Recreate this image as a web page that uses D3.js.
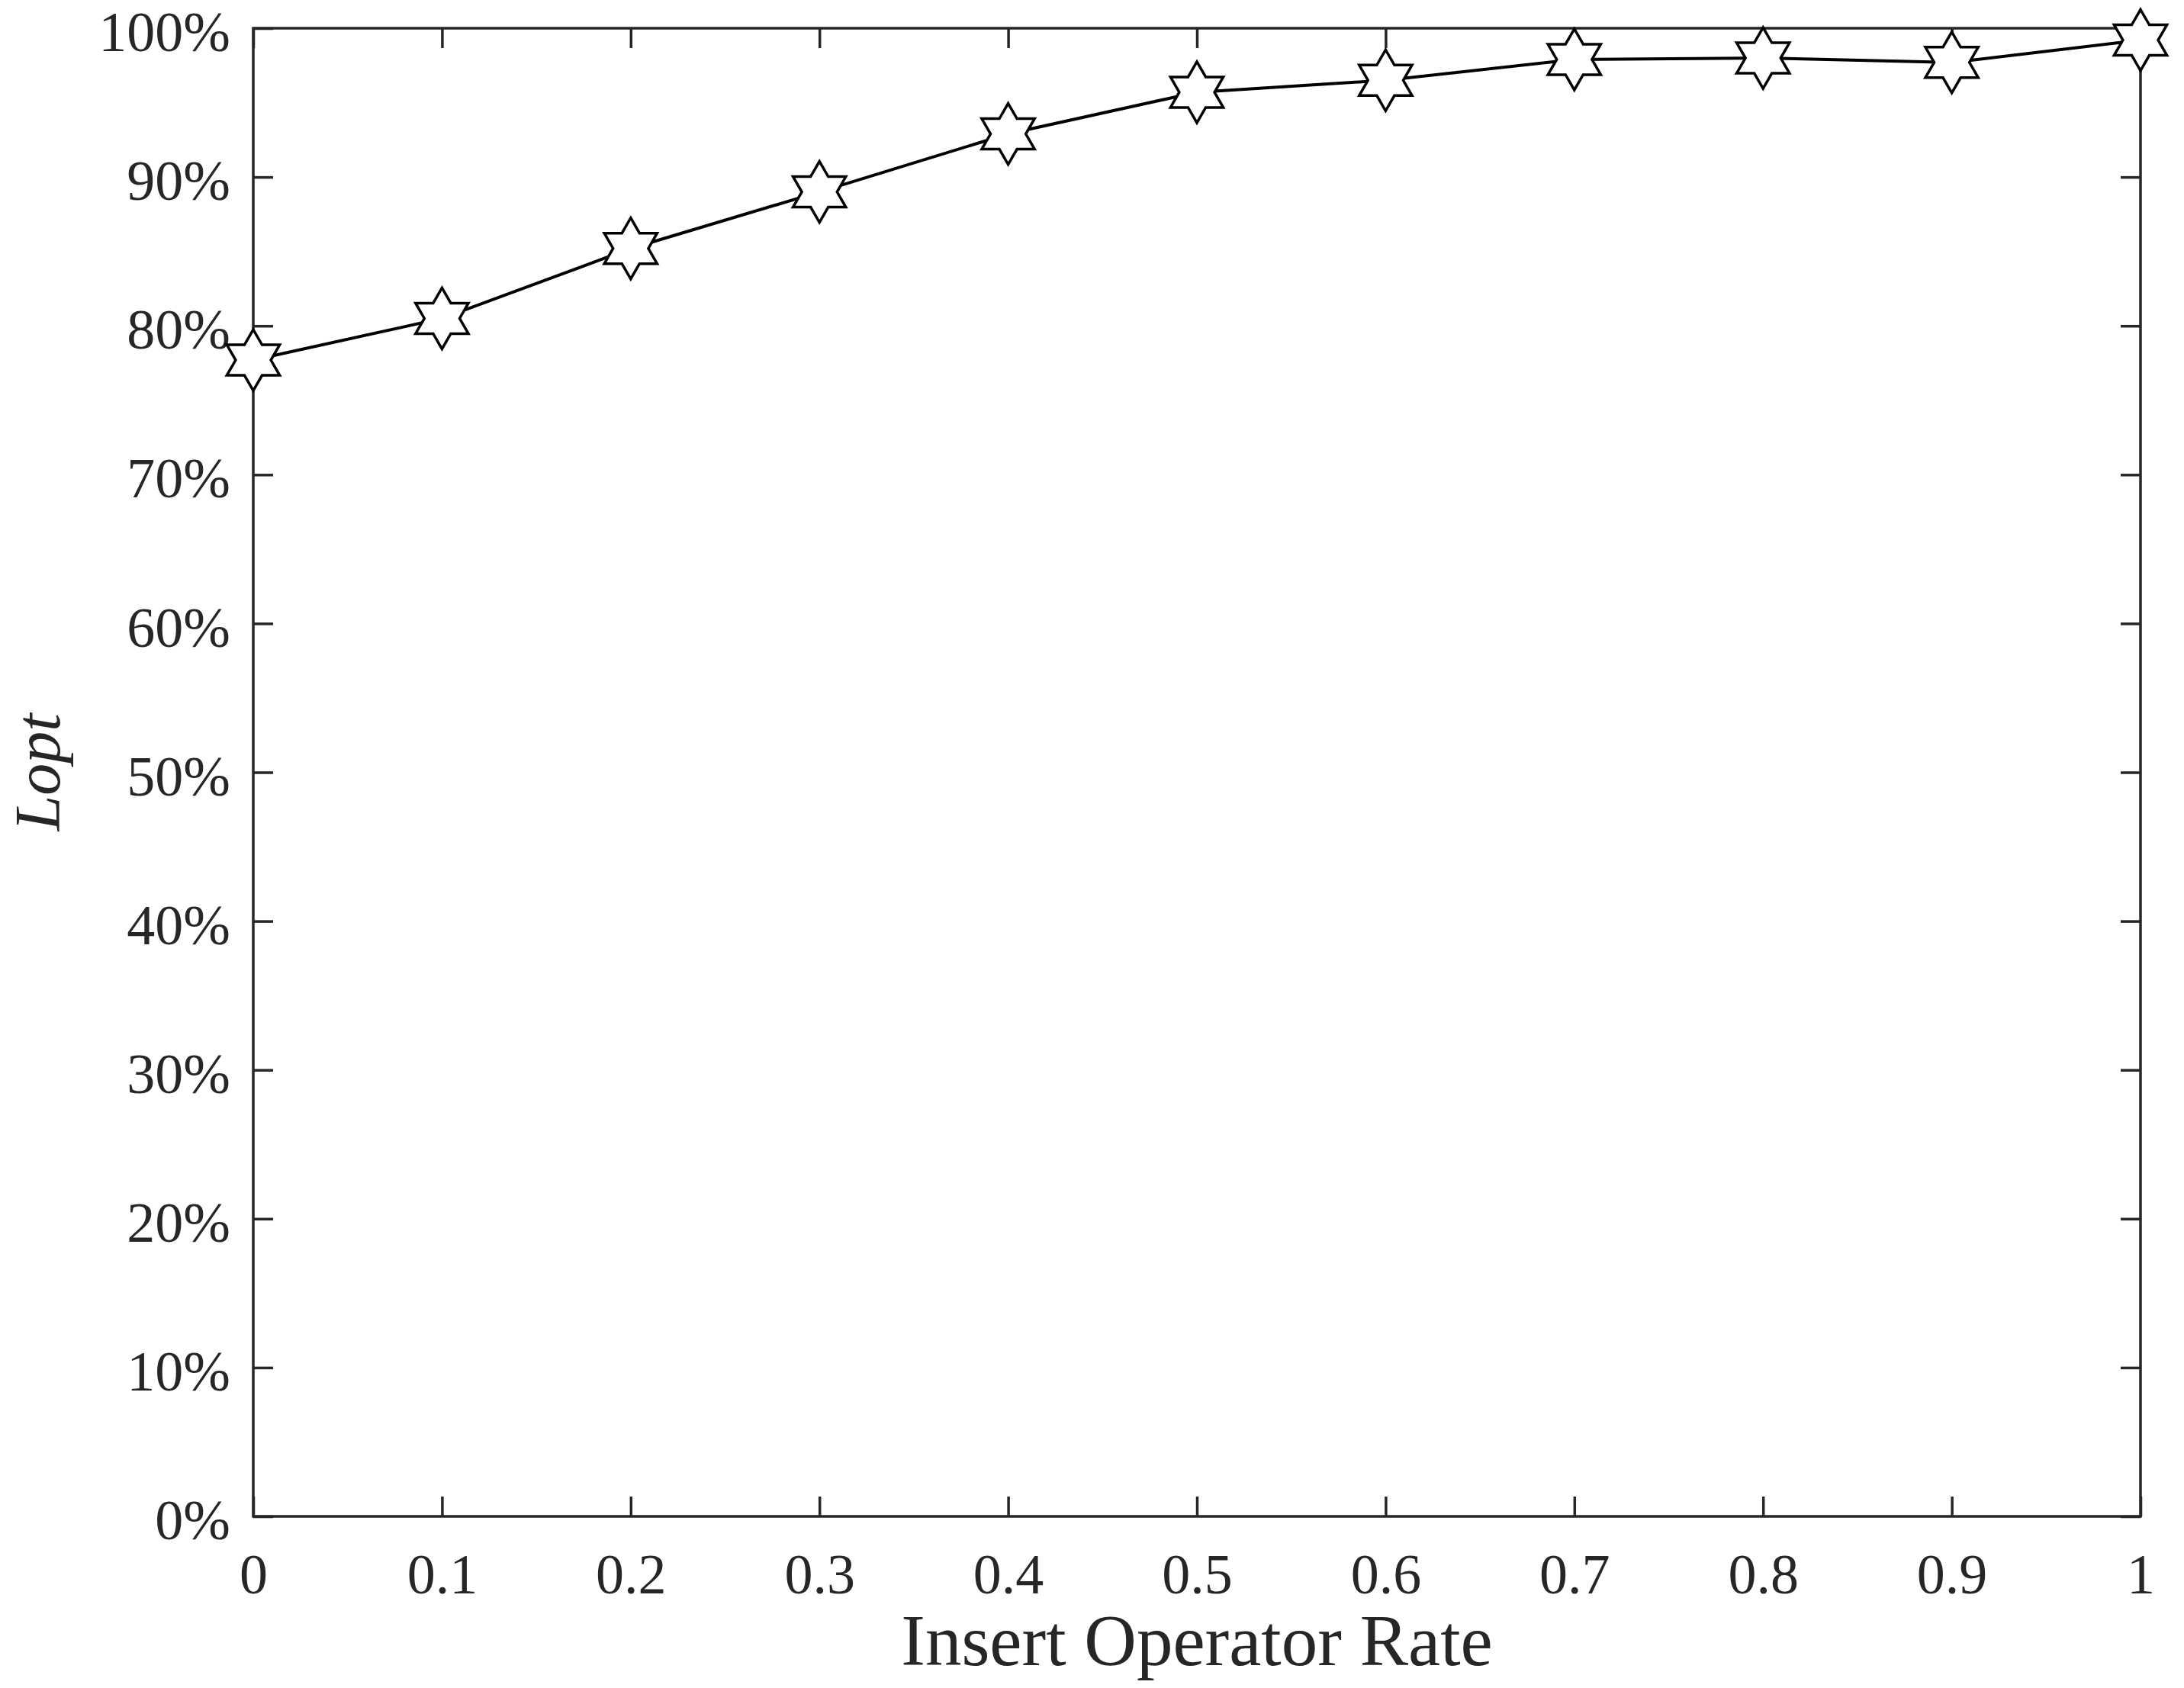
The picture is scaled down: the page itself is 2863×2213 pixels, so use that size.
<!DOCTYPE html>
<html><head><meta charset="utf-8">
<script src="https://cdn.jsdelivr.net/npm/d3@7"></script>
<style>html,body{margin:0;padding:0;background:#fff;}svg{display:block;}</style>
</head><body>
<script>
const xValues = [0, 0.1, 0.2, 0.3, 0.4, 0.5, 0.6, 0.7, 0.8, 0.9, 1.0];
const lopt = [0.777, 0.805, 0.852, 0.890, 0.929, 0.957, 0.965, 0.979, 0.980, 0.977, 0.992];
const xTicks = [0, 0.1, 0.2, 0.3, 0.4, 0.5, 0.6, 0.7, 0.8, 0.9, 1];
const yTicks = [0, 0.1, 0.2, 0.3, 0.4, 0.5, 0.6, 0.7, 0.8, 0.9, 1];
const xTitle = "Insert Operator Rate";
const yTitle = "Lopt";

const W = 2863, H = 2213;
const m = {left: 332, right: 2863 - 2806, top: 37, bottom: 2213 - 1988};
const axisColor = "#262626";
const font = "'Liberation Serif', 'Times New Roman', serif";

const svg = d3.select("body").append("svg").attr("width", W).attr("height", H)
  .style("background", "#fff");

const x = d3.scaleLinear().domain([0, 1]).range([m.left, W - m.right]);
const y = d3.scaleLinear().domain([0, 1]).range([H - m.bottom, m.top]);

const tickLen = 26;
const fs = 74;

// axes
const gx = svg.append("g").attr("transform", `translate(0,${H - m.bottom})`)
  .call(d3.axisBottom(x).tickValues(xTicks).tickSize(-tickLen).tickPadding(48)
    .tickFormat(d => d3.format("~g")(d)));
const gxTop = svg.append("g").attr("transform", `translate(0,${m.top})`)
  .call(d3.axisTop(x).tickValues(xTicks).tickSize(-tickLen).tickFormat(""));
const gy = svg.append("g").attr("transform", `translate(${m.left},0)`)
  .call(d3.axisLeft(y).tickValues(yTicks).tickSize(-tickLen).tickPadding(30)
    .tickFormat(d => Math.round(d * 100) + "%"));
const gyR = svg.append("g").attr("transform", `translate(${W - m.right},0)`)
  .call(d3.axisRight(y).tickValues(yTicks).tickSize(-tickLen).tickFormat(""));

[gx, gxTop, gy, gyR].forEach(g => {
  g.select(".domain").remove();
  g.selectAll(".tick line").attr("stroke", axisColor).attr("stroke-width", 3.5);
  g.selectAll(".tick text").attr("fill", axisColor).style("font-family", font).style("font-size", fs + "px");
});
gy.selectAll(".tick text").attr("dy", "0.4em");

svg.append("rect").attr("x", m.left).attr("y", m.top)
  .attr("width", W - m.left - m.right).attr("height", H - m.top - m.bottom)
  .attr("fill", "none").attr("stroke", axisColor).attr("stroke-width", 3.5);

// line
const data = xValues.map((v, i) => ({x: v, y: lopt[i]}));
svg.append("path").datum(data)
  .attr("fill", "none").attr("stroke", "#000").attr("stroke-width", 4)
  .attr("d", d3.line().x(d => x(d.x)).y(d => y(d.y)));

// hexagram markers
function hexagram(R) {
  const r = R / Math.sqrt(3);
  const pts = [];
  for (let k = 0; k < 12; k++) {
    const a = -Math.PI / 2 + k * Math.PI / 6;
    const rr = k % 2 === 0 ? R : r;
    pts.push([rr * Math.cos(a), rr * Math.sin(a)]);
  }
  return "M" + pts.map(p => p[0].toFixed(2) + "," + p[1].toFixed(2)).join("L") + "Z";
}
svg.append("g").selectAll("path").data(data).join("path")
  .attr("transform", d => `translate(${x(d.x)},${y(d.y)})`)
  .attr("d", hexagram(40))
  .attr("fill", "#fff").attr("stroke", "#000").attr("stroke-width", 3.5)
  .attr("stroke-linejoin", "miter");

// titles
svg.append("text").attr("x", (m.left + W - m.right) / 2).attr("y", 2183)
  .attr("text-anchor", "middle").attr("fill", axisColor)
  .style("font-family", font).style("font-size", "95px").text(xTitle);
svg.append("text")
  .attr("transform", `translate(78,${(m.top + H - m.bottom) / 2}) rotate(-90)`)
  .attr("text-anchor", "middle").attr("fill", axisColor)
  .style("font-family", font).style("font-size", "84px").style("font-style", "italic").text(yTitle);
</script>
</body></html>
